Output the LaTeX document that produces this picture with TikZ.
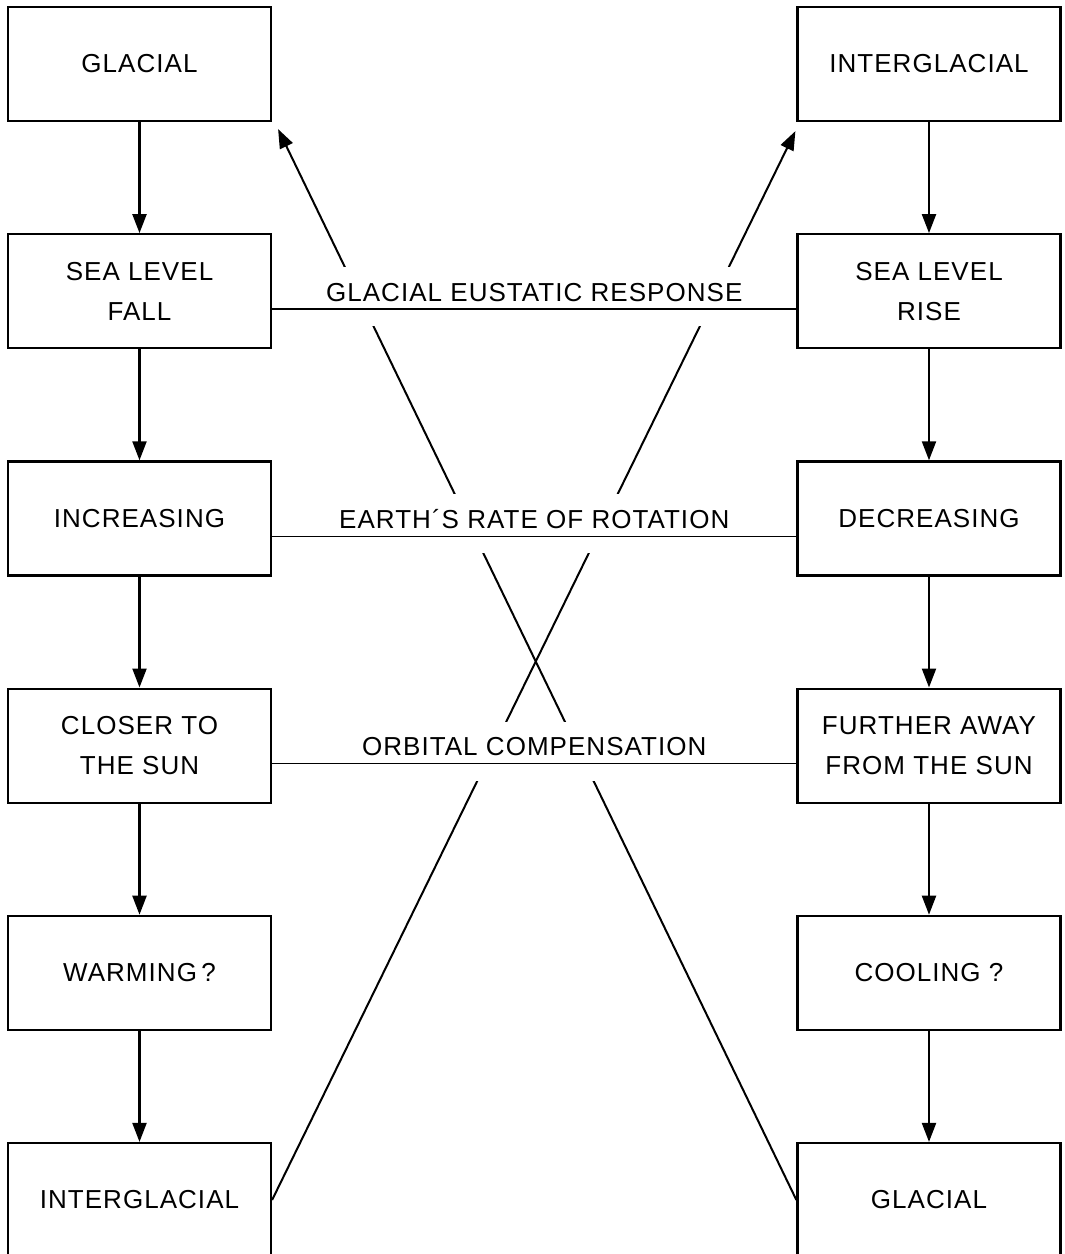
\documentclass[tikz,border=0pt]{standalone}
\usepackage{fontspec}
\setmainfont[LetterSpace=4]{Liberation Sans}
\usetikzlibrary{arrows.meta,calc}
\begin{document}
\begin{tikzpicture}[x=1pt,y=-1pt,
  box/.style={draw,line width=2.2pt,minimum width=263pt,minimum height=114pt,inner sep=0pt,align=center,font=\fontsize{26}{40}\selectfont},
  flow/.style={line width=2.2pt,-{Triangle[length=19pt,width=14pt]}},
  link/.style={line width=1.6pt},
  diag/.style={line width=2pt,-{Triangle[length=19pt,width=14pt]}},
  band/.style={fill=white},
  lab/.style={font=\fontsize{26}{32}\selectfont,inner sep=0pt,anchor=base}]
\useasboundingbox (0,0) rectangle (1065,1254);
\clip (0,0) rectangle (1065,1254);
% left column
\node[box] (l1) at (139.5,64)    {GLACIAL};
\node[box] (l2) at (139.5,291.2) {SEA LEVEL\\FALL};
\node[box] (l3) at (139.5,518.4) {INCREASING};
\node[box] (l4) at (139.5,745.6) {CLOSER TO\\THE SUN};
\node[box] (l5) at (139.5,972.8) {WARMING\,?};
\node[box] (l6) at (139.5,1200)  {INTERGLACIAL};
% right column
\node[box] (r1) at (929,64)    {INTERGLACIAL};
\node[box] (r2) at (929,291.2) {SEA LEVEL\\RISE};
\node[box] (r3) at (929,518.4) {DECREASING};
\node[box] (r4) at (929,745.6) {FURTHER AWAY\\FROM THE SUN};
\node[box] (r5) at (929,972.8) {COOLING ?};
\node[box] (r6) at (929,1200)  {GLACIAL};
% vertical flow arrows
\foreach \a/\b in {1/2,2/3,3/4,4/5,5/6}{
  \draw[flow] (l\a) -- (l\b);
  \draw[flow] (r\a) -- (r\b);
}
% diagonal feedback lines
\coordinate (tipR) at ($(r1.south west)+(-1,9)$);
\coordinate (tipL) at ($(l1.south east)+(6,7)$);
\draw[diag] (l6.east) -- (tipR);
\draw[diag] (r6.west) -- (tipL);
% gaps in the diagonals around the labels
\foreach \i in {2,3,4}{
  \fill[band] ($(l\i.east)+(20,-24)$) rectangle ($(r\i.west)+(-20,35)$);
}
% horizontal links
\foreach \i in {2,3,4}{
  \draw[link] ($(l\i.east)+(0,18)$) -- ($(r\i.west)+(0,18)$);
}
% labels
\node[lab] (t2) at ($(l2.east)!0.5!(r2.west)+(0,10)$) {GLACIAL EUSTATIC RESPONSE};
\node[lab] (t3) at ($(l3.east)!0.5!(r3.west)+(0,10)$) {EARTH´S RATE OF ROTATION};
\node[lab] (t4) at ($(l4.east)!0.5!(r4.west)+(0,10)$) {ORBITAL COMPENSATION};
\end{tikzpicture}
\end{document}
